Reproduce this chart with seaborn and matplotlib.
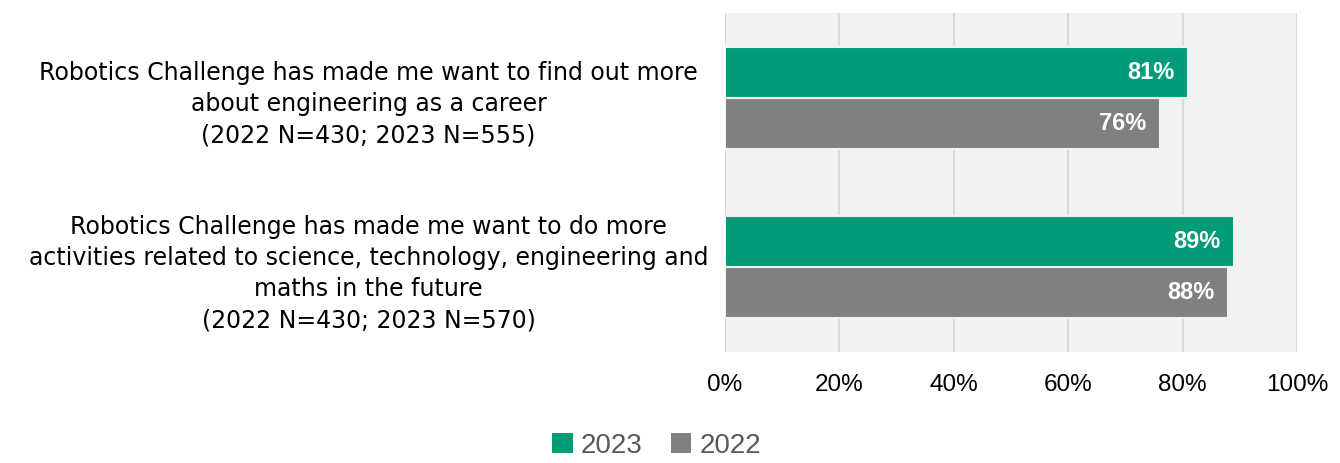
import matplotlib
matplotlib.use("Agg")
import matplotlib.pyplot as plt
import seaborn as sns
import pandas as pd
from matplotlib.patches import Patch
from matplotlib import font_manager

categories = [
    "Robotics Challenge has made me want to find out more\nabout engineering as a career\n(2022 N=430; 2023 N=555)",
    "Robotics Challenge has made me want to do more\nactivities related to science, technology, engineering and\nmaths in the future\n(2022 N=430; 2023 N=570)",
]
years = ["2023", "2022"]
values_2023 = [81, 89]
values_2022 = [76, 88]
xticks = [0, 20, 40, 60, 80, 100]

colors = {"2023": "#009B77", "2022": "#808080"}

df = pd.DataFrame({
    "category": categories * 2,
    "year": ["2023"] * len(categories) + ["2022"] * len(categories),
    "value": values_2023 + values_2022,
})

sns.set_theme(style="white")
plt.rcParams["font.family"] = ["Liberation Sans", "DejaVu Sans"]

names = {f.name for f in font_manager.fontManager.ttflist}
narrow = "Liberation Sans Narrow" if "Liberation Sans Narrow" in names else "Liberation Sans"

fig = plt.figure(figsize=(13.4, 4.63), dpi=100)
ax = fig.add_axes([0.541, 0.2397, 0.427, 0.7323])
ax.set_facecolor("#F2F2F2")

sns.barplot(data=df, y="category", x="value", hue="year", hue_order=years,
            palette=colors, saturation=1, orient="h", width=0.6, ax=ax,
            edgecolor="#F2F2F2", linewidth=1.5, legend=False, zorder=3)

ax.set_xlim(0, 100)
ax.set_ylim(1.5, -0.5)
ax.set_xticks(xticks)
ax.set_xticklabels([f"{t}%" for t in xticks], fontsize=17.5, color="black",
                   family=[narrow, "DejaVu Sans"])
ax.tick_params(axis="x", length=0, pad=16)
ax.tick_params(axis="y", length=0, pad=0)
for lab in ax.get_yticklabels():
    lab.set_fontsize(17)
    lab.set_family(["DejaVu Sans"])
    lab.set_multialignment("center")
    lab.set_horizontalalignment("center")
    lab.set_linespacing(1.38)
    lab.set_color("black")
    lab.set_x(-0.623)
ax.set_xlabel("")
ax.set_ylabel("")
ax.grid(axis="x", color="#D9D9D9", linewidth=1.5, zorder=0)
ax.set_axisbelow(True)
for s in ax.spines.values():
    s.set_visible(False)

for container in ax.containers:
    anns = ax.bar_label(container, labels=[f"{v:.0f}%" for v in container.datavalues],
                        padding=-10, color="white", fontsize=17, fontweight="bold",
                        family=[narrow, "DejaVu Sans"])
    for a in anns:
        a.set_horizontalalignment("right")

handles = [Patch(facecolor=colors[y], edgecolor="none", label=y) for y in years]
leg = fig.legend(handles=handles, loc="lower center", bbox_to_anchor=(0.49, -0.045),
                 ncol=2, frameon=False, fontsize=20, handlelength=0.75, handleheight=0.75,
                 handletextpad=0.3, columnspacing=1.0)
for t in leg.get_texts():
    t.set_color("#595959")

fig.savefig("out.png", dpi=100)
